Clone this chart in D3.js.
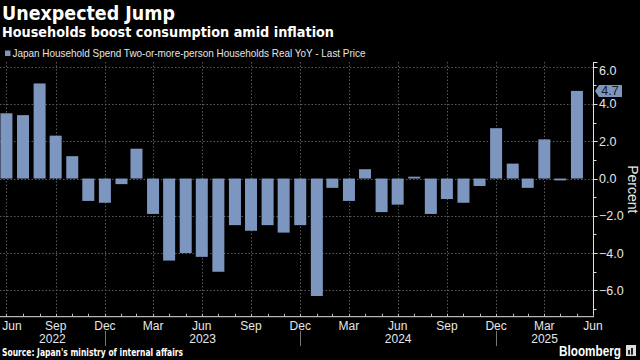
<!DOCTYPE html>
<html>
<head>
<meta charset="utf-8">
<script src="https://cdn.jsdelivr.net/npm/d3@7"></script>
<style>
  body { margin: 0; background: #000; }
  svg { display: block; font-family: "Liberation Sans", Arial, sans-serif; }
  .heavy { font-family: "DejaVu Sans", "Liberation Sans", sans-serif; font-weight: bold; }
</style>
</head>
<body>
<svg width="640" height="360"></svg>
<script>
// monthly data, Jun 2022 .. May 2025
const months = [
  "2022-06","2022-07","2022-08","2022-09","2022-10","2022-11","2022-12",
  "2023-01","2023-02","2023-03","2023-04","2023-05","2023-06","2023-07","2023-08","2023-09","2023-10","2023-11","2023-12",
  "2024-01","2024-02","2024-03","2024-04","2024-05","2024-06","2024-07","2024-08","2024-09","2024-10","2024-11","2024-12",
  "2025-01","2025-02","2025-03","2025-04","2025-05"
]
const values = [
  3.5, 3.4, 5.1, 2.3, 1.2, -1.2, -1.3,
  -0.3, 1.6, -1.9, -4.4, -4.0, -4.2, -5.0, -2.5, -2.8, -2.5, -2.9, -2.5,
  -6.3, -0.5, -1.2, 0.5, -1.8, -1.4, 0.1, -1.9, -1.1, -1.3, -0.4, 2.7,
  0.8, -0.5, 2.1, -0.1, 4.7
]
const yTicks = [-6, -4, -2, 0, 2, 4, 6]
const years = [2022, 2023, 2024, 2025]

const barColor = '#7d96bf'
const svg = d3.select('svg')

// bloomberg puts monthly points on month end
const parseMonth = s => {
  const [yr, m] = s.split('-').map(Number)
  return new Date(Date.UTC(yr, m, 0))
}
const data = months.map((m, i) => ({date: parseMonth(m), value: values[i]}))

const plotL = 0, plotR = 593, plotT = 62, plotB = 316.7

const x = d3.scaleUtc()
  .domain([new Date(Date.UTC(2022, 5, 18)), new Date(Date.UTC(2025, 5, 30))])
  .range([plotL, plotR])

const y = d3.scaleLinear()
  .domain([-7.41, 6.25])
  .range([plotB, plotT])

const monthEnds = d3.utcMonth.range(new Date(Date.UTC(2022, 5, 1)), new Date(Date.UTC(2025, 6, 1)))
  .map(d => new Date(Date.UTC(d.getUTCFullYear(), d.getUTCMonth() + 1, 0)))
const quarterEnds = monthEnds.filter(d => d.getUTCMonth() % 3 === 2)

// titles
svg.append('text')
  .attr('class', 'heavy')
  .attr('x', 2).attr('y', 20)
  .attr('fill', '#fff')
  .attr('font-size', 20)
  .attr('textLength', 173).attr('lengthAdjust', 'spacingAndGlyphs')
  .text('Unexpected Jump')

svg.append('text')
  .attr('class', 'heavy')
  .attr('x', 2).attr('y', 37)
  .attr('fill', '#fff')
  .attr('font-size', 13.5)
  .attr('textLength', 332).attr('lengthAdjust', 'spacingAndGlyphs')
  .text('Households boost consumption amid inflation')

// legend
svg.append('rect')
  .attr('x', 5).attr('y', 50.5).attr('width', 5.5).attr('height', 5.5)
  .attr('fill', barColor)
svg.append('text')
  .attr('x', 12.5).attr('y', 57)
  .attr('fill', '#e6e6e6')
  .attr('font-size', 11)
  .attr('textLength', 353).attr('lengthAdjust', 'spacingAndGlyphs')
  .text('Japan Household Spend Two-or-more-person Households Real YoY - Last Price')

// grid
const grid = svg.append('g')
  .attr('stroke', '#5a5a5a')
  .attr('stroke-width', 1)
  .attr('stroke-dasharray', '1.5,2')

grid.selectAll('.h')
  .data(yTicks).enter()
  .append('line')
  .attr('x1', plotL).attr('x2', plotR)
  .attr('y1', d => Math.round(y(d)) + 0.5)
  .attr('y2', d => Math.round(y(d)) + 0.5)

grid.selectAll('.v')
  .data(quarterEnds.filter(d => x(d) < plotR - 2)).enter()
  .append('line')
  .attr('x1', d => Math.round(x(d)) + 0.5)
  .attr('x2', d => Math.round(x(d)) + 0.5)
  .attr('y1', plotT).attr('y2', plotB)

// bars
const barW = 12
svg.append('g')
  .selectAll('rect')
  .data(data).enter()
  .append('rect')
  .attr('x', d => x(d.date) - barW / 2)
  .attr('width', barW)
  .attr('y', d => y(Math.max(0, d.value)))
  .attr('height', d => Math.max(1, Math.abs(y(d.value) - y(0))))
  .attr('fill', barColor)

// right axis
const yAxis = svg.append('g').attr('transform', `translate(${plotR + 0.5},0)`)
yAxis.append('line')
  .attr('y1', plotT).attr('y2', plotB)
  .attr('stroke', '#e0e0e0')
yAxis.selectAll('.minor')
  .data(d3.range(-7, 7, 1)).enter()
  .append('line')
  .attr('x1', 0).attr('x2', d => d % 2 === 0 ? 4 : 3)
  .attr('y1', d => Math.round(y(d)) + 0.5)
  .attr('y2', d => Math.round(y(d)) + 0.5)
  .attr('stroke', '#e0e0e0')
yAxis.append('line')
  .attr('x1', 0).attr('x2', 4)
  .attr('y1', plotT + 0.5).attr('y2', plotT + 0.5)
  .attr('stroke', '#e0e0e0')
yAxis.selectAll('text')
  .data(yTicks).enter()
  .append('text')
  .attr('x', 5.5)
  .attr('y', d => Math.max(y(d), 70) + 4.5)
  .attr('fill', '#e6e6e6')
  .attr('font-size', 12.5)
  .text(d => d3.format('.1f')(d))

svg.append('text')
  .attr('transform', `translate(628,${(plotT + plotB) / 2}) rotate(90)`)
  .attr('text-anchor', 'middle')
  .attr('fill', '#e6e6e6')
  .attr('font-size', 14)
  .text('Percent')

// last value tag
const last = data[data.length - 1]
const ly = y(last.value)
svg.append('path')
  .attr('d', `M${plotR + 2},${ly} L${plotR + 6},${ly - 6} L${plotR + 29},${ly - 6} L${plotR + 29},${ly + 6} L${plotR + 6},${ly + 6} Z`)
  .attr('fill', barColor)
svg.append('text')
  .attr('x', plotR + 17).attr('y', ly + 4.5)
  .attr('text-anchor', 'middle')
  .attr('fill', '#1a1a1a')
  .attr('font-size', 12.5)
  .text(d3.format('.1f')(last.value))

// bottom axis
const xAxis = svg.append('g')
xAxis.append('line')
  .attr('x1', plotL).attr('x2', plotR + 1)
  .attr('y1', plotB).attr('y2', plotB)
  .attr('stroke', '#e0e0e0')
xAxis.selectAll('.tick')
  .data(monthEnds).enter()
  .append('line')
  .attr('x1', d => Math.round(x(d)) + 0.5)
  .attr('x2', d => Math.round(x(d)) + 0.5)
  .attr('y1', plotB - 3).attr('y2', plotB)
  .attr('stroke', '#bbb')

const fmtMonth = d3.utcFormat('%b')
xAxis.selectAll('.mlabel')
  .data(quarterEnds).enter()
  .append('text')
  .attr('x', d => Math.max(x(d), 12))
  .attr('y', 329.5)
  .attr('text-anchor', 'middle')
  .attr('fill', '#e6e6e6')
  .attr('font-size', 12)
  .text(d => fmtMonth(d))

// year labels, centred in the visible span of each year
const yearEdge = yr => x(new Date(Date.UTC(yr, 0, 0)))
xAxis.selectAll('.ylabel')
  .data(years).enter()
  .append('text')
  .attr('x', yr => (Math.max(plotL, yearEdge(yr)) + Math.min(plotR, yearEdge(yr + 1))) / 2)
  .attr('y', 343)
  .attr('text-anchor', 'middle')
  .attr('fill', '#e6e6e6')
  .attr('font-size', 12)
  .text(yr => yr)

xAxis.selectAll('.sep')
  .data(years.slice(1)).enter()
  .append('line')
  .attr('x1', yr => Math.round(yearEdge(yr)) + 0.5)
  .attr('x2', yr => Math.round(yearEdge(yr)) + 0.5)
  .attr('y1', 331).attr('y2', 346)
  .attr('stroke', '#777')

// footer
svg.append('text')
  .attr('class', 'heavy')
  .attr('x', 2).attr('y', 356)
  .attr('fill', '#fff')
  .attr('font-size', 10.5)
  .attr('textLength', 181).attr('lengthAdjust', 'spacingAndGlyphs')
  .text("Source: Japan's ministry of internal affairs")

svg.append('text')
  .attr('x', 559).attr('y', 356)
  .attr('fill', '#fff')
  .attr('font-size', 14).attr('font-weight', 'bold')
  .attr('textLength', 62).attr('lengthAdjust', 'spacingAndGlyphs')
  .text('Bloomberg')
const logo = svg.append('g').attr('transform', 'translate(626,345)')
logo.append('rect').attr('width', 10).attr('height', 11).attr('fill', '#ddd')
logo.selectAll('.b')
  .data([[2, 5, 2], [5, 3, 2], [5, 7, 1.5]]).enter()
  .append('rect')
  .attr('x', d => d[0]).attr('y', d => d[1])
  .attr('width', d => d[2]).attr('height', d => 11 - d[1] - 1.5)
  .attr('fill', '#222')
</script>
</body>
</html>
